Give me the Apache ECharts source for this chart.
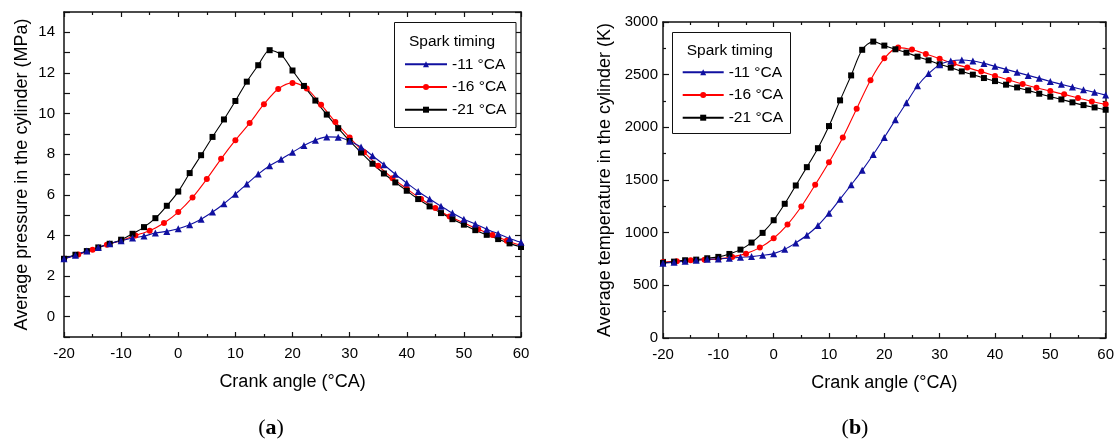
<!DOCTYPE html>
<html><head><meta charset="utf-8">
<script src="https://cdn.jsdelivr.net/npm/echarts@6/dist/echarts.min.js"></script>
<style>html,body{margin:0;padding:0;background:#fff;}#c{width:1117px;height:441px;}</style>
</head><body><div id="c"></div>
<script>
// Crank angle samples
const angles2 = [-20,-18,-16,-14,-12,-10,-8,-6,-4,-2,0,2,4,6,8,10,12,14,16,18,20,22,24,26,28,30,32,34,36,38,40,42,44,46,48,50,52,54,56,58,60];
const angles25 = [-20,-17.5,-15,-12.5,-10,-7.5,-5,-2.5,0,2.5,5,7.5,10,12.5,15,17.5,20,22.5,25,27.5,30,32.5,35,37.5,40,42.5,45,47.5,50,52.5,55,57.5,60];
const seriesNames = ['-11 °CA','-16 °CA','-21 °CA'];

// (a) Average pressure (MPa)
const pressure11 = [2.85,3.03,3.23,3.41,3.59,3.74,3.87,3.97,4.12,4.2,4.33,4.53,4.8,5.15,5.56,6.03,6.53,7.02,7.43,7.75,8.09,8.43,8.69,8.85,8.84,8.64,8.35,7.92,7.48,7.01,6.58,6.16,5.79,5.44,5.1,4.8,4.56,4.31,4.08,3.85,3.66];
const pressure16 = [2.85,3.06,3.3,3.54,3.75,4.0,4.23,4.61,5.15,5.87,6.78,7.77,8.69,9.53,10.46,11.21,11.51,11.23,10.44,9.59,8.82,8.1,7.43,6.82,6.3,5.79,5.35,4.93,4.62,4.3,4.02,3.74,3.5];
const pressure21 = [2.85,3.05,3.23,3.41,3.59,3.79,4.08,4.41,4.85,5.46,6.16,7.07,7.95,8.85,9.71,10.62,11.57,12.38,13.12,12.9,12.12,11.36,10.64,9.95,9.28,8.65,8.08,7.53,7.05,6.61,6.2,5.79,5.43,5.1,4.8,4.53,4.26,4.03,3.82,3.61,3.43];

// (b) Average temperature (K)
const temp11 = [709,719,728,738,747,751,757,766,773,785,801,842,903,975,1068,1185,1318,1454,1592,1742,1904,2072,2234,2395,2510,2595,2629,2639,2629,2607,2579,2550,2522,2493,2465,2436,2408,2382,2357,2332,2306];
const temp16 = [722,728,738,744,751,770,801,858,947,1077,1248,1454,1669,1904,2177,2448,2655,2757,2738,2696,2652,2605,2567,2529,2487,2449,2411,2376,2344,2313,2278,2246,2218];
const temp21 = [713,725,738,744,757,770,798,839,906,998,1118,1274,1448,1622,1802,2012,2256,2493,2736,2814,2776,2741,2709,2671,2636,2598,2567,2531,2500,2468,2439,2405,2379,2351,2319,2291,2265,2237,2211,2189,2167];

const pressureTickLabels = [0,2,4,6,8,10,12,14];

const FONT = 'Liberation Sans, Arial, sans-serif';
const COL = {'-11 °CA':'#1010a0','-16 °CA':'#ff0000','-21 °CA':'#000000'};
const SYM = {'-11 °CA':'triangle','-16 °CA':'circle','-21 °CA':'rect'};

function pairs(xs, ys){ return xs.map((x,i)=>[x, ys[i]]); }

const axisLine = {show:true, onZero:false, lineStyle:{color:'#111', width:1.5}};

function xAxis(grid, pos, labels, name){
  return {
    gridIndex:grid, type:'value', position:pos, min:-20, max:60, interval:10,
    axisLine:axisLine,
    axisTick:{show:true, inside:true, length:5, lineStyle:{color:'#111', width:1.2}},
    minorTick:{show:true, splitNumber:2, length:3, lineStyle:{color:'#111', width:1.2}},
    splitLine:{show:false}, minorSplitLine:{show:false},
    axisLabel:{show:labels, margin:9, fontSize:15, color:'#000', fontFamily:FONT, formatter:v=>String(v)},
    name: labels ? name : '', nameLocation:'middle', nameGap:36,
    nameTextStyle:{fontSize:18, color:'#000', fontFamily:FONT}
  };
}

const legendBase = {orient:'vertical', itemHeight:7.5, itemGap:6.7, data:seriesNames, padding:0, z:6,
  textStyle:{fontSize:15.5, lineHeight:16, color:'#000', fontFamily:FONT}};

const option = {
  animation:false,
  backgroundColor:'#fff',
  grid:[
    {left:64, top:12, width:457, height:325},
    {left:663, top:22, width:444, height:316}
  ],
  xAxis:[
    xAxis(0,'bottom',true,'Crank angle (°CA)'),
    xAxis(0,'top',false,''),
    xAxis(1,'bottom',true,'Crank angle (°CA)'),
    xAxis(1,'top',false,'')
  ],
  yAxis:[
    {gridIndex:0, type:'value', position:'left', min:-1, max:15, interval:1,
     axisLine:axisLine,
     axisTick:{show:true, inside:true, length:6, lineStyle:{color:'#111', width:1.2}},
     splitLine:{show:false},
     axisLabel:{margin:9, fontSize:15, color:'#000', fontFamily:FONT,
       formatter:v => pressureTickLabels.indexOf(v) >= 0 ? String(v) : ''},
     name:'Average pressure in the cylinder (MPa)', nameLocation:'middle', nameGap:33,
     nameTextStyle:{fontSize:18, color:'#000', fontFamily:FONT}},
    {gridIndex:0, type:'value', position:'right', min:-1, max:15, interval:1,
     axisLine:axisLine,
     axisTick:{show:true, inside:true, length:6, lineStyle:{color:'#111', width:1.2}},
     splitLine:{show:false}, axisLabel:{show:false}},
    {gridIndex:1, type:'value', position:'left', min:0, max:3000, interval:500,
     axisLine:axisLine,
     axisTick:{show:true, inside:true, length:6, lineStyle:{color:'#111', width:1.2}},
     minorTick:{show:true, splitNumber:2, length:3, lineStyle:{color:'#111', width:1.2}},
     splitLine:{show:false}, minorSplitLine:{show:false},
     axisLabel:{margin:5, fontSize:15, color:'#000', fontFamily:FONT, formatter:v=>String(v)},
     name:'Average temperature in the cylinder (K)', nameLocation:'middle', nameGap:49,
     nameTextStyle:{fontSize:18, color:'#000', fontFamily:FONT}},
    {gridIndex:1, type:'value', position:'right', min:0, max:3000, interval:500,
     axisLine:axisLine,
     axisTick:{show:true, inside:true, length:6, lineStyle:{color:'#111', width:1.2}},
     minorTick:{show:true, splitNumber:2, length:3, lineStyle:{color:'#111', width:1.2}},
     splitLine:{show:false}, minorSplitLine:{show:false}, axisLabel:{show:false}}
  ],
  legend:[
    Object.assign({}, legendBase, {left:404, top:56.3, itemWidth:42}),
    Object.assign({}, legendBase, {left:681.7, top:64.3, itemWidth:41})
  ],
  graphic:[
    {type:'rect', z:5, shape:{x:394.5, y:22.5, width:121.5, height:105}, style:{fill:'#fff', stroke:'#111', lineWidth:1}},
    {type:'text', z:7, x:409, y:41.7, style:{text:'Spark timing', fontSize:15.5, fontFamily:FONT, fill:'#000', verticalAlign:'middle'}},
    {type:'rect', z:5, shape:{x:672.5, y:32.5, width:118, height:101}, style:{fill:'#fff', stroke:'#111', lineWidth:1}},
    {type:'text', z:7, x:686.7, y:51, style:{text:'Spark timing', fontSize:15.5, fontFamily:FONT, fill:'#000', verticalAlign:'middle'}},
    {type:'text', z:7, x:271, y:428, style:{text:'{p|(}{b|a}{p|)}', align:'center', verticalAlign:'middle',
      rich:{p:{fontSize:22, fontFamily:'Liberation Serif, serif', fill:'#000'}, b:{fontSize:22, fontWeight:'bold', fontFamily:'Liberation Serif, serif', fill:'#000'}}}},
    {type:'text', z:7, x:855, y:428, style:{text:'{p|(}{b|b}{p|)}', align:'center', verticalAlign:'middle',
      rich:{p:{fontSize:22, fontFamily:'Liberation Serif, serif', fill:'#000'}, b:{fontSize:22, fontWeight:'bold', fontFamily:'Liberation Serif, serif', fill:'#000'}}}}
  ],
  series:[]
};

function mkSeries(name, xi, xs, ys){
  return {
    name:name, type:'line', xAxisIndex:xi, yAxisIndex:xi,
    data:pairs(xs, ys), smooth:0.3, symbol:SYM[name],
    symbolSize: name==='-16 °CA' ? 6 : (name==='-11 °CA' ? 7 : 6),
    showAllSymbol:true, clip:false,
    lineStyle:{color:COL[name], width:1.1},
    itemStyle:{color:COL[name], borderWidth:0}
  };
}
option.series.push(
  mkSeries('-16 °CA',0,angles25,pressure16),
  mkSeries('-21 °CA',0,angles2,pressure21),
  mkSeries('-11 °CA',0,angles2,pressure11),
  mkSeries('-16 °CA',2,angles25,temp16),
  mkSeries('-21 °CA',2,angles2,temp21),
  mkSeries('-11 °CA',2,angles2,temp11)
);

const chart = echarts.init(document.getElementById('c'), null, {renderer:'canvas'});
chart.setOption(option);
</script>
</body></html>
